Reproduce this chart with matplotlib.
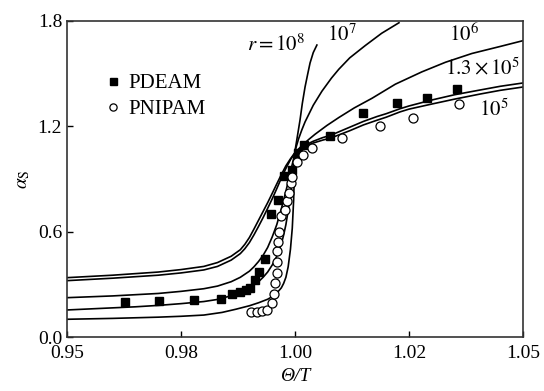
import numpy as np
import matplotlib
matplotlib.use("Agg")
import matplotlib.pyplot as plt

# measured points
pdeam_x = [0.9627, 0.9702, 0.9779, 0.9838, 0.9862, 0.9879, 0.9893, 0.9901, 0.9912,
           0.9921, 0.9934, 0.9947, 0.9963, 0.9976, 0.9993, 1.0007, 1.0020, 1.0077,
           1.0149, 1.0224, 1.0289, 1.0355]
pdeam_y = [0.199, 0.205, 0.211, 0.216, 0.245, 0.256, 0.267, 0.279, 0.325,
           0.370, 0.444, 0.701, 0.780, 0.917, 0.951, 1.048, 1.094, 1.145,
           1.276, 1.333, 1.361, 1.413]

pnipam_x = [0.9903, 0.9917, 0.9928, 0.9939, 0.9950, 0.9954, 0.9956, 0.9961, 0.9961,
            0.9961, 0.9963, 0.9965, 0.9969, 0.9978, 0.9982, 0.9987, 0.9991, 0.9993,
            1.0004, 1.0018, 1.0037, 1.0103, 1.0186, 1.0259, 1.0360]
pnipam_y = [0.142, 0.142, 0.148, 0.154, 0.194, 0.245, 0.308, 0.365, 0.427,
            0.490, 0.541, 0.598, 0.689, 0.723, 0.775, 0.820, 0.877, 0.911,
            0.997, 1.037, 1.077, 1.134, 1.202, 1.247, 1.327]

# theory curves
r1e5_x = [0.95, 0.96, 0.97, 0.975, 0.98, 0.983, 0.986, 0.988, 0.989, 0.990, 0.991, 0.992,
          0.993, 0.994, 0.995, 0.996, 0.997, 0.998, 0.999, 1.000, 1.001, 1.002, 1.004,
          1.006, 1.008, 1.010, 1.012, 1.015, 1.018, 1.020, 1.023, 1.025, 1.030, 1.035,
          1.0406, 1.045, 1.05]
r1e5_y = [0.338, 0.352, 0.370, 0.384, 0.402, 0.424, 0.460, 0.497, 0.528, 0.567, 0.615, 0.665,
          0.715, 0.765, 0.818, 0.872, 0.925, 0.975, 1.015, 1.050, 1.068, 1.083, 1.105,
          1.121, 1.135, 1.155, 1.175, 1.208, 1.235, 1.252, 1.282, 1.298, 1.327, 1.355,
          1.384, 1.405, 1.424]

r13e5_x = r1e5_x
r13e5_y = [0.321, 0.335, 0.352, 0.365, 0.382, 0.402, 0.438, 0.475, 0.503, 0.538, 0.582, 0.630,
           0.680, 0.733, 0.787, 0.845, 0.905, 0.960, 1.010, 1.050, 1.072, 1.090, 1.115,
           1.135, 1.151, 1.173, 1.195, 1.228, 1.256, 1.272, 1.300, 1.316, 1.350, 1.380,
           1.407, 1.428, 1.447]

r1e6_x = [0.95, 0.96, 0.97, 0.975, 0.98, 0.983, 0.986, 0.988, 0.990, 0.991, 0.992, 0.993,
          0.994, 0.995, 0.996, 0.997, 0.998, 0.999, 1.000, 1.0015, 1.003, 1.0044, 1.007,
          1.0096, 1.013, 1.0169, 1.022, 1.0278, 1.033, 1.0388, 1.045, 1.05]
r1e6_y = [0.224, 0.234, 0.248, 0.260, 0.275, 0.290, 0.315, 0.340, 0.375, 0.400, 0.430, 0.465,
          0.510, 0.570, 0.640, 0.730, 0.830, 0.940, 1.050, 1.090, 1.125, 1.155, 1.205,
          1.250, 1.305, 1.360, 1.440, 1.510, 1.565, 1.615, 1.655, 1.688]

r1e7_x = [0.95, 0.955, 0.96, 0.965, 0.97, 0.975, 0.98, 0.983, 0.986, 0.988, 0.990, 0.992,
          0.993, 0.994, 0.995, 0.996, 0.997, 0.9975, 0.998, 0.9985, 0.999, 0.9995, 1.000,
          1.0008, 1.0015, 1.0022, 1.004, 1.0059, 1.008, 1.0096, 1.012, 1.0154, 1.019, 1.0228]
r1e7_y = [0.154, 0.160, 0.166, 0.172, 0.180, 0.190, 0.202, 0.214, 0.235, 0.255, 0.280, 0.315,
          0.340, 0.370, 0.410, 0.460, 0.530, 0.580, 0.640, 0.720, 0.810, 0.930, 1.060,
          1.130, 1.180, 1.225, 1.320, 1.400, 1.475, 1.525, 1.590, 1.660, 1.730, 1.790]

r1e8_x = [0.95, 0.96, 0.97, 0.975, 0.98, 0.984, 0.987, 0.990, 0.992, 0.994, 0.995, 0.996,
          0.997, 0.9975, 0.998, 0.9985, 0.999, 0.9994, 0.9997, 1.000, 1.0005, 1.0011,
          1.0016, 1.0022, 1.0028, 1.0033, 1.004, 1.0048]
r1e8_y = [0.101, 0.106, 0.113, 0.118, 0.125, 0.140, 0.158, 0.178, 0.195, 0.215, 0.230, 0.250,
          0.280, 0.305, 0.340, 0.400, 0.500, 0.620, 0.780, 1.060, 1.140, 1.236,
          1.330, 1.424, 1.500, 1.561, 1.620, 1.663]

xticks = [0.95, 0.975, 1.0, 1.025, 1.05]
xtick_labels = ["0.95", "0.98", "1.00", "1.02", "1.05"]
yticks = [0.0, 0.6, 1.2, 1.8]
ytick_labels = ["0.0", "0.6", "1.2", "1.8"]

plt.rcParams["font.family"] = ["Liberation Serif", "DejaVu Serif"]
plt.rcParams["mathtext.fontset"] = "stix"

fig = plt.figure(figsize=(5.44, 3.91), dpi=100)
ax = fig.add_axes([0.1232, 0.1381, 0.8382, 0.8082])

for xs, ys in [(r1e5_x, r1e5_y), (r13e5_x, r13e5_y), (r1e6_x, r1e6_y),
               (r1e7_x, r1e7_y), (r1e8_x, r1e8_y)]:
    ax.plot(xs, ys, color="black", lw=1.2, solid_joinstyle="round")

ax.plot(pdeam_x, pdeam_y, ls="none", marker="s", ms=6.3, mfc="black", mec="black",
        label="PDEAM")
ax.plot(pnipam_x, pnipam_y, ls="none", marker="o", ms=6.5, mfc="white", mec="black",
        mew=0.9, label="PNIPAM")

ax.set_xlim(0.95, 1.05)
ax.set_ylim(0.0, 1.8)
ax.set_xticks(xticks)
ax.set_xticklabels(xtick_labels)
ax.set_yticks(yticks)
ax.set_yticklabels(ytick_labels)
ax.tick_params(direction="in", length=4, width=1, labelsize=14, top=False, right=False)
ax.tick_params(axis="x", pad=6)
for s in ax.spines.values():
    s.set_linewidth(1.2)
    s.set_color("#333333")

ax.set_xlabel("Θ/T", fontsize=14, fontstyle="italic", labelpad=4)
ax.set_ylabel(r"$\alpha_{\mathrm{S}}$", fontsize=14, labelpad=4)

ax.legend(loc="upper left", bbox_to_anchor=(0.055, 0.86), frameon=False, fontsize=15,
          handletextpad=0.15, labelspacing=0.3, borderaxespad=0, handlelength=1.2,
          markerscale=0.8)

fs = 15
ax.text(1.0022, 1.66, r"$r = 10^{8}$", fontsize=fs, ha="right", va="center")
ax.text(1.0070, 1.72, r"$10^{7}$", fontsize=fs, ha="left", va="center")
ax.text(1.0338, 1.72, r"$10^{6}$", fontsize=fs, ha="left", va="center")
ax.text(1.0330, 1.53, r"$1.3 \times 10^{5}$", fontsize=fs, ha="left", va="center")
ax.text(1.0403, 1.29, r"$10^{5}$", fontsize=fs, ha="left", va="center")

fig.savefig("out.png", dpi=100)
